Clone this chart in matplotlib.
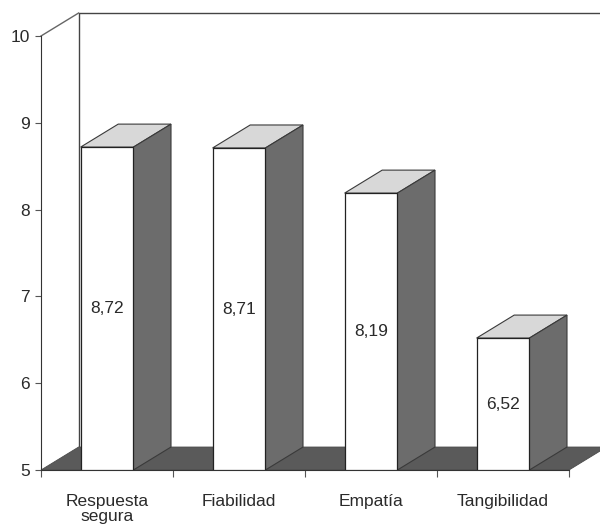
import matplotlib
matplotlib.use("Agg")
import matplotlib.pyplot as plt
from matplotlib.patches import Polygon

plt.rcParams['font.family'] = ['Liberation Sans', 'DejaVu Sans']

categorias = ["Respuesta\nsegura", "Fiabilidad", "Empatía", "Tangibilidad"]
valores = [8.72, 8.71, 8.19, 6.52]
yticks = [5, 6, 7, 8, 9, 10]

ymin, ymax = 5, 10
ancho = 0.40      # front face width (category units)
dx, dy = 0.285, 0.265  # depth offset (x in category units, y in value units)

fig = plt.figure(figsize=(6, 5.28), dpi=100)
ax = fig.add_axes([0.0683, 0.1098, 0.88, 0.822])
ax.set_xlim(-0.5, len(categorias) - 0.5)
ax.set_ylim(ymin, ymax)

x0, x1 = -0.5, len(categorias) - 0.5

# floor
suelo = Polygon([(x0, ymin), (x1, ymin), (x1 + dx, ymin + dy), (x0 + dx, ymin + dy)],
                closed=True, facecolor="#5a5a5a", edgecolor="#4a4a4a", lw=0.6,
                zorder=1, clip_on=False)
ax.add_patch(suelo)

# back wall outline
ax.plot([x0 + dx, x0 + dx, x1 + dx + 0.3], [ymin + dy, ymax + dy, ymax + dy],
        color="#444444", lw=1.0, clip_on=False, zorder=0)
ax.plot([x0, x0 + dx], [ymax, ymax + dy], color="#666666", lw=1.0,
        clip_on=False, zorder=0)

# bars: white front, grey top, dark side
for i, v in enumerate(valores):
    l, r = i - ancho / 2, i + ancho / 2
    ax.bar(i, v - ymin, bottom=ymin, width=ancho, color="white",
           edgecolor="#222222", lw=0.9, zorder=3)
    tapa = Polygon([(l, v), (r, v), (r + dx, v + dy), (l + dx, v + dy)], closed=True,
                   facecolor="#d8d8d8", edgecolor="#3a3a3a", lw=0.8, zorder=2,
                   clip_on=False)
    lado = Polygon([(r, ymin), (r + dx, ymin + dy), (r + dx, v + dy), (r, v)], closed=True,
                   facecolor="#6c6c6c", edgecolor="#3a3a3a", lw=0.8, zorder=2,
                   clip_on=False)
    ax.add_patch(tapa)
    ax.add_patch(lado)
    ax.text(i, (v + ymin) / 2, f"{v:.2f}".replace(".", ","), ha="center", va="center",
            fontsize=12.5, color="#2a2a2a", zorder=4)

ax.spines[["top", "right"]].set_visible(False)
ax.spines["left"].set_color("#333333")
ax.spines["bottom"].set_color("#333333")

ax.set_yticks(yticks)
ax.set_yticklabels([str(t) for t in yticks], fontsize=12.5, color="#2a2a2a")
ax.tick_params(axis="y", length=4, color="#555555", pad=4)

ax.set_xticks([k - 0.5 for k in range(len(categorias) + 1)])
ax.set_xticklabels([])
ax.set_xticks(range(len(categorias)), minor=True)
ax.set_xticklabels(categorias, minor=True, fontsize=12.5, color="#2a2a2a",
                   linespacing=1.0)
ax.tick_params(axis="x", which="major", length=5, color="#555555")
ax.tick_params(axis="x", which="minor", length=0, pad=17)

fig.savefig("out.png", dpi=100)
